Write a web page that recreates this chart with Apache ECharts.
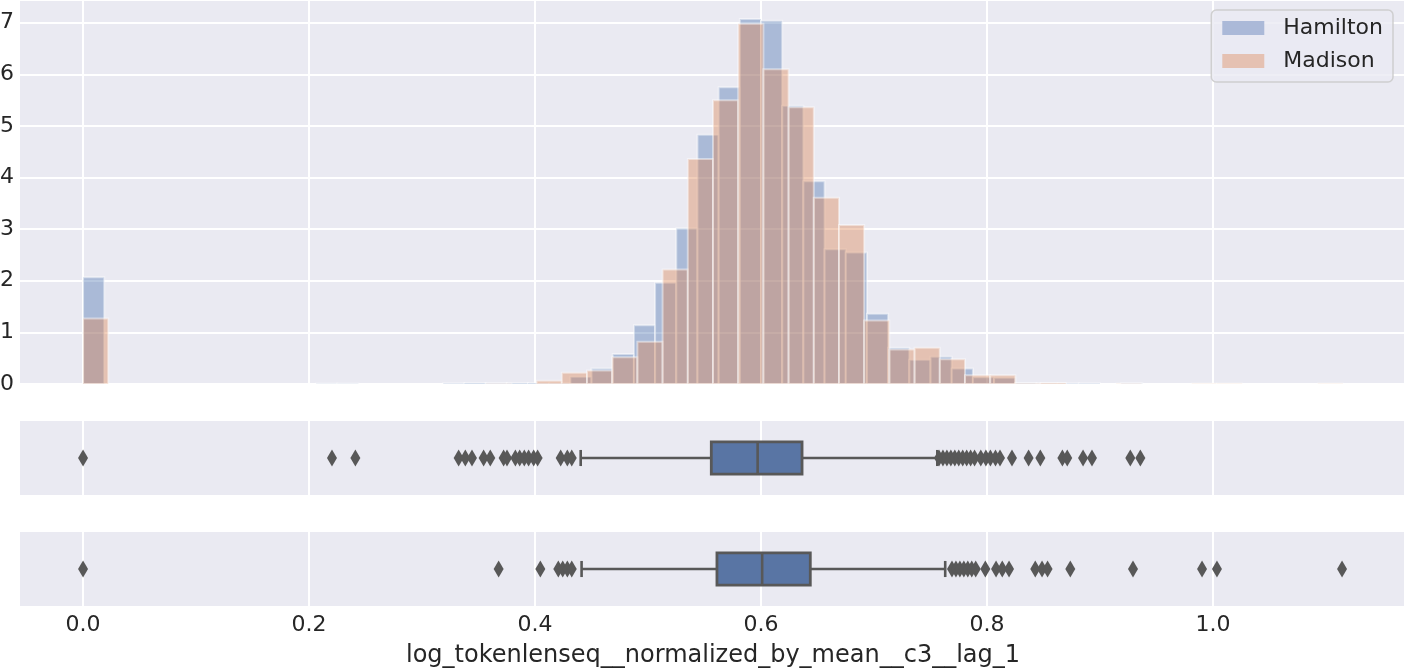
<!DOCTYPE html>
<html lang="en">
<head>
  <meta charset="UTF-8">
  <title>log_tokenlenseq__normalized_by_mean__c3__lag_1</title>
  <style>
    html, body { margin: 0; padding: 0; background: #ffffff; }
    #chart { width: 1404px; height: 668px; }
  </style>
</head>
<body>
<div id="chart"></div>
<script src="https://cdn.jsdelivr.net/npm/echarts@6.0.0/dist/echarts.min.js"></script>
<script>
  // histogram bins: 50 bins per author, starting at 0
  var hamiltonBinStart = 0;
  var hamiltonBinWidth = 0.01875;
  var hamiltonDensity = [
    2.07, 0, 0, 0, 0, 0, 0, 0, 0, 0,
    0, 0.007, 0.007, 0, 0, 0, 0, 0.013, 0.02, 0.02,
    0.02, 0.02, 0.02, 0.14, 0.30, 0.58, 1.14, 1.96, 3.02, 4.83,
    5.75, 7.07, 7.04, 5.39, 3.93, 2.61, 2.55, 1.36, 0.70, 0.47,
    0.53, 0.30, 0.13, 0.12, 0.02, 0.013, 0.013, 0.013, 0, 0.013
  ];

  var madisonBinStart = 0;
  var madisonBinWidth = 0.0223;
  var madisonDensity = [
    1.27, 0, 0, 0, 0, 0, 0, 0, 0, 0,
    0, 0, 0, 0, 0, 0, 0.006, 0, 0.064, 0.22,
    0.26, 0.52, 0.82, 2.22, 4.36, 5.50, 6.98, 6.10, 5.36, 3.61,
    3.08, 1.23, 0.67, 0.70, 0.48, 0.17, 0.17, 0.01, 0.02, 0,
    0, 0.006, 0, 0, 0.006, 0.006, 0, 0, 0, 0.006
  ];

  // boxplots: [whisker low, Q1, median, Q3, whisker high]
  var hamiltonBox = [0.4404, 0.556, 0.597, 0.6363, 0.756];
  var madisonBox = [0.4412, 0.561, 0.601, 0.6436, 0.763];

  var hamiltonOutliers = [
    0.0, 0.2203, 0.2410,
    0.3324, 0.3383, 0.3442, 0.3545, 0.3604, 0.3722, 0.3752, 0.3826, 0.3864,
    0.3905, 0.3943, 0.3988, 0.4023, 0.4227, 0.4286, 0.4325,
    0.7575, 0.761, 0.7645, 0.768, 0.7715, 0.775, 0.7785, 0.782, 0.7855, 0.789,
    0.7945, 0.799, 0.803, 0.8075, 0.8115, 0.8221, 0.8368, 0.8472,
    0.8667, 0.8710, 0.8850, 0.8929, 0.9268, 0.9357
  ];
  var madisonOutliers = [
    0.0, 0.3678, 0.4047, 0.4206, 0.4245, 0.4286, 0.4325,
    0.769, 0.7725, 0.776, 0.7795, 0.783, 0.7865, 0.790, 0.7985,
    0.808, 0.8135, 0.8195, 0.8427, 0.8487, 0.8536, 0.8737,
    0.9292, 0.9903, 1.0035, 1.1142
  ];

  var xTicks = [0, 0.2, 0.4, 0.6, 0.8, 1.0];
  var xMin = -0.0558, xMax = 1.1708;
  var xTitle = 'log_tokenlenseq__normalized_by_mean__c3__lag_1';

  var font = 'DejaVu Sans';
  var textColor = '#262626';
  var bgColor = '#eaeaf2';
  var boxFill = '#5975a4';
  var boxLine = '#585858';

  function binsOf(start, width, density) {
    var out = [];
    density.forEach(function (d, i) {
      if (d > 0) out.push([start + i * width, start + (i + 1) * width, d]);
    });
    return out;
  }

  function histRenderer(fill) {
    return function (params, api) {
      var p0 = api.coord([api.value(0), api.value(2)]);
      var p1 = api.coord([api.value(1), 0]);
      return {
        type: 'rect',
        shape: { x: p0[0], y: p0[1], width: p1[0] - p0[0], height: p1[1] - p0[1] },
        style: { fill: fill, stroke: 'rgba(255,255,255,0.45)', lineWidth: 2 }
      };
    };
  }

  function boxRenderer(params, api) {
    var cat = api.value(0);
    var pMin = api.coord([api.value(1), cat]);
    var pQ1 = api.coord([api.value(2), cat]);
    var pMed = api.coord([api.value(3), cat]);
    var pQ3 = api.coord([api.value(4), cat]);
    var pMax = api.coord([api.value(5), cat]);
    var h = api.size([0, 1])[1] * 0.435;
    var cy = pMed[1];
    var ls = { stroke: boxLine, lineWidth: 2.6 };
    return {
      type: 'group',
      children: [
        { type: 'line', shape: { x1: pMin[0], y1: cy, x2: pQ1[0], y2: cy }, style: ls },
        { type: 'line', shape: { x1: pQ3[0], y1: cy, x2: pMax[0], y2: cy }, style: ls },
        { type: 'line', shape: { x1: pMin[0], y1: cy - h / 4, x2: pMin[0], y2: cy + h / 4 }, style: ls },
        { type: 'line', shape: { x1: pMax[0], y1: cy - h / 4, x2: pMax[0], y2: cy + h / 4 }, style: ls },
        { type: 'rect', shape: { x: pQ1[0], y: cy - h / 2, width: pQ3[0] - pQ1[0], height: h },
          style: { fill: boxFill, stroke: boxLine, lineWidth: 2.8 } },
        { type: 'line', shape: { x1: pMed[0], y1: cy - h / 2, x2: pMed[0], y2: cy + h / 2 }, style: ls }
      ]
    };
  }

  function makeX(gridIndex, withLabels) {
    return {
      type: 'value',
      gridIndex: gridIndex,
      min: xMin,
      max: xMax,
      axisLine: { show: false },
      axisTick: { show: false, customValues: xTicks },
      axisLabel: {
        show: withLabels,
        customValues: xTicks,
        fontSize: 22,
        fontFamily: font,
        color: textColor,
        margin: 8,
        formatter: function (v) { return v.toFixed(1); }
      },
      splitLine: { show: true, lineStyle: { color: '#ffffff', width: 2 } },
      name: withLabels ? xTitle : '',
      nameLocation: 'middle',
      nameGap: 38,
      nameTextStyle: { fontSize: 24, fontFamily: font, color: textColor }
    };
  }

  var chart = echarts.init(document.getElementById('chart'));

  var gridBase = { left: 20, width: 1386, show: true, backgroundColor: bgColor, borderWidth: 0,
    outerBoundsMode: 'none', containLabel: false };

  var option = {
    animation: false,
    textStyle: { fontFamily: font },
    grid: [
      Object.assign({ top: 0, height: 384 }, gridBase),
      Object.assign({ top: 421, height: 74 }, gridBase),
      Object.assign({ top: 532, height: 74 }, gridBase)
    ],
    xAxis: [makeX(0, false), makeX(1, false), makeX(2, true)],
    yAxis: [
      {
        type: 'value', gridIndex: 0, min: 0, max: 7.44, interval: 1,
        axisLine: { show: false }, axisTick: { show: false },
        axisLabel: { fontSize: 22, fontFamily: font, color: textColor, margin: 6,
          showMaxLabel: false },
        splitLine: { lineStyle: { color: '#ffffff', width: 2 } }
      },
      { type: 'category', gridIndex: 1, data: ['Hamilton'], show: false },
      { type: 'category', gridIndex: 2, data: ['Madison'], show: false }
    ],
    legend: {
      right: 11,
      top: 10,
      orient: 'vertical',
      backgroundColor: 'rgba(234,234,242,0.8)',
      borderColor: 'rgba(204,204,204,0.9)',
      borderWidth: 1.5,
      borderRadius: 5,
      padding: [7, 10, 10, 11],
      itemWidth: 42,
      itemHeight: 14,
      itemGap: 11,
      textStyle: { fontSize: 22, fontFamily: font, color: textColor, padding: [0, 0, 0, 14] },
      data: [
        { name: 'Hamilton', icon: 'rect', itemStyle: { color: '#abb9d8' } },
        { name: 'Madison', icon: 'rect', itemStyle: { color: '#e5c1b2' } }
      ]
    },
    series: [
      {
        name: 'Hamilton',
        type: 'custom',
        xAxisIndex: 0, yAxisIndex: 0,
        renderItem: histRenderer('rgba(76,114,176,0.4)'),
        itemStyle: { color: '#abb9d8' },
        encode: { x: [0, 1], y: 2 },
        data: binsOf(hamiltonBinStart, hamiltonBinWidth, hamiltonDensity),
        silent: true
      },
      {
        name: 'Madison',
        type: 'custom',
        xAxisIndex: 0, yAxisIndex: 0,
        renderItem: histRenderer('rgba(221,132,82,0.4)'),
        itemStyle: { color: '#e5c1b2' },
        encode: { x: [0, 1], y: 2 },
        data: binsOf(madisonBinStart, madisonBinWidth, madisonDensity),
        silent: true
      },
      {
        type: 'custom',
        xAxisIndex: 1, yAxisIndex: 1,
        renderItem: boxRenderer,
        encode: { x: [1, 2, 3, 4, 5], y: 0 },
        data: [[0].concat(hamiltonBox)],
        silent: true
      },
      {
        type: 'custom',
        xAxisIndex: 2, yAxisIndex: 2,
        renderItem: boxRenderer,
        encode: { x: [1, 2, 3, 4, 5], y: 0 },
        data: [[0].concat(madisonBox)],
        silent: true
      },
      {
        type: 'scatter',
        xAxisIndex: 1, yAxisIndex: 1,
        symbol: 'diamond',
        symbolSize: [10, 17],
        itemStyle: { color: boxLine, opacity: 1 },
        data: hamiltonOutliers.map(function (v) { return [v, 0]; }),
        z: 5,
        silent: true
      },
      {
        type: 'scatter',
        xAxisIndex: 2, yAxisIndex: 2,
        symbol: 'diamond',
        symbolSize: [10, 17],
        itemStyle: { color: boxLine, opacity: 1 },
        data: madisonOutliers.map(function (v) { return [v, 0]; }),
        z: 5,
        silent: true
      }
    ]
  };

  chart.setOption(option);
</script>
</body>
</html>
